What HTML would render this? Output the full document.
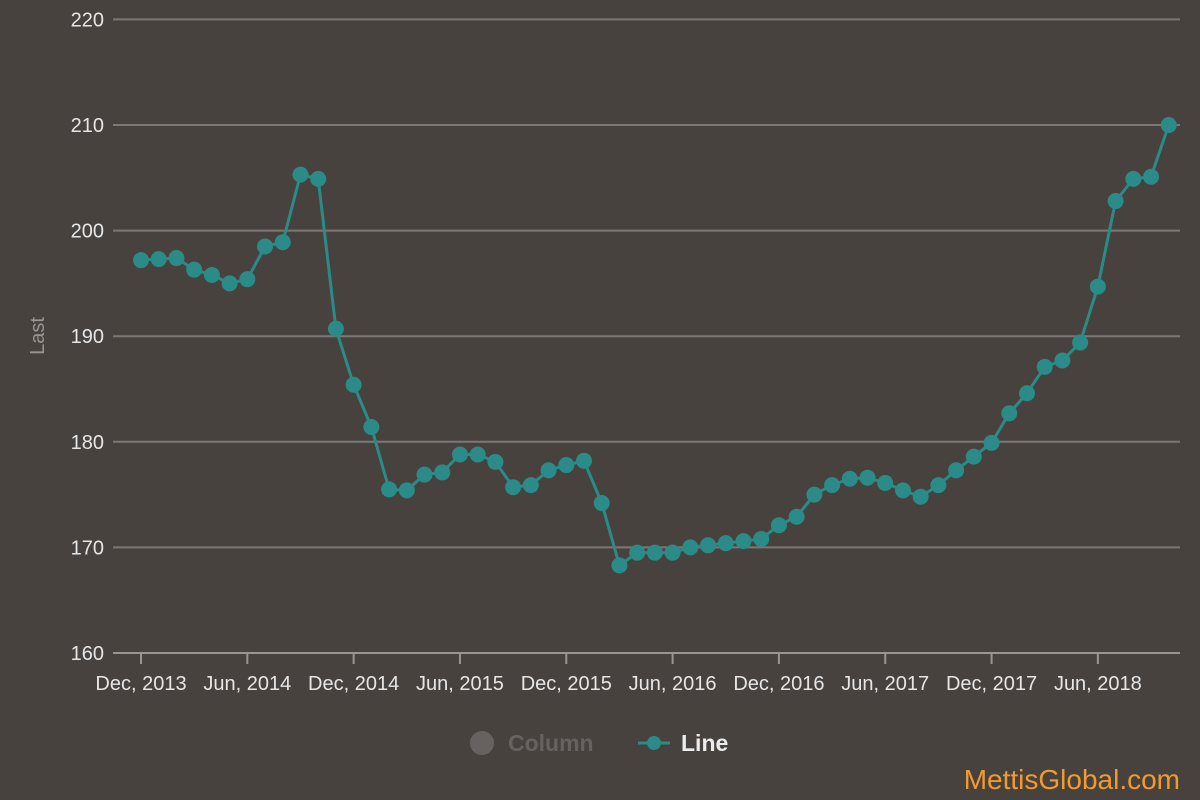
<!DOCTYPE html>
<html><head><meta charset="utf-8"><style>
body{margin:0;background:#47423e;}
svg{display:block;font-family:"Liberation Sans",sans-serif;}
</style></head><body>
<svg id="chart" width="1200" height="800" viewBox="0 0 1200 800">
<rect width="1200" height="800" fill="#47423e"/>
<g id="grid"></g><g id="xaxis"></g><g id="series"></g>
<text x="44" y="336" fill="#9a9592" font-size="20" transform="rotate(-90 44 336)" text-anchor="middle">Last</text>
<g>
<circle cx="482" cy="743" r="12" fill="#67625f"/>
<text x="508" y="751" fill="#67625f" font-size="23" font-weight="bold">Column</text></g>
<g>
<line x1="638" y1="743" x2="670" y2="743" stroke="#2a8b88" stroke-width="3"/>
<circle cx="654" cy="743" r="7" fill="#2a8b88"/>
<text x="681" y="751" fill="#ececec" font-size="23" font-weight="bold">Line</text></g>
<text x="1180" y="789" fill="#f29a2e" font-size="28" text-anchor="end">MettisGlobal.com</text>
</svg>
<script>
const values=[197.2,197.3,197.4,196.3,195.8,195.0,195.4,198.5,198.9,205.3,204.9,190.7,185.4,181.4,175.5,175.4,176.9,177.1,178.8,178.8,178.1,175.7,175.9,177.3,177.8,178.2,174.2,168.3,169.5,169.5,169.5,170.0,170.2,170.4,170.6,170.8,172.1,172.9,175.0,175.9,176.5,176.6,176.1,175.4,174.8,175.9,177.3,178.6,179.9,182.7,184.6,187.1,187.7,189.4,194.7,202.8,204.9,205.1,210.0];
const yTicks=[160,170,180,190,200,210,220];
const xTickLabels=["Dec, 2013","Jun, 2014","Dec, 2014","Jun, 2015","Dec, 2015","Jun, 2016","Dec, 2016","Jun, 2017","Dec, 2017","Jun, 2018"];
const NS="http://www.w3.org/2000/svg";
const x0=141,dx=17.72,yBase=653,pxPer=10.56;
const X=i=>x0+i*dx, Y=v=>yBase-(v-160)*pxPer;
function mk(t,a,p){const e=document.createElementNS(NS,t);for(const k in a)e.setAttribute(k,a[k]);p.appendChild(e);return e;}
const grid=document.getElementById('grid');
yTicks.forEach(v=>{
 const l=mk('line',{x1:113,x2:1180,y1:Y(v),y2:Y(v),stroke:v===160?'#9a9592':'#7d7875','stroke-width':2},grid);
 
 
 const t=mk('text',{x:104,y:Y(v)+7,fill:'#e6e6e6','font-size':20,'text-anchor':'end'},grid);
 t.textContent=v;
 
 
});
const xa=document.getElementById('xaxis');
xTickLabels.forEach((s,k)=>{
 const x=X(k*6);
 const l=mk('line',{x1:x,x2:x,y1:653,y2:664,stroke:'#9a9592','stroke-width':2},xa);
 
 
 const t=mk('text',{x:x,y:690,fill:'#e6e6e6','font-size':20,'text-anchor':'middle'},xa);
 t.textContent=s;
 
 
});
const se=document.getElementById('series');
const pl=mk('polyline',{points:values.map((v,i)=>X(i)+','+Y(v)).join(' '),fill:'none',stroke:'#2a8b88','stroke-width':3},se);


values.forEach((v,i)=>{
 const c=mk('circle',{cx:X(i),cy:Y(v),r:8,fill:'#2a8b88'},se);
 
 
});
</script>
</body></html>
